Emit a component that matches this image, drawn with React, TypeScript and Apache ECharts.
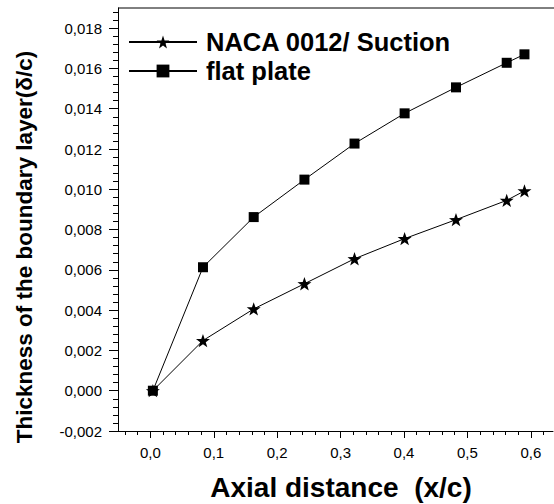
import React, { useEffect, useRef } from "react";
import * as echarts from "echarts";

const xValues = [0.004, 0.083, 0.163, 0.243, 0.322, 0.401, 0.482, 0.562, 0.59];
const flatPlate = [0.0, 0.00613, 0.00862, 0.01048, 0.01227, 0.01377, 0.01506, 0.01628, 0.0167];
const nacaSuction = [0.0, 0.00249, 0.00406, 0.00531, 0.00655, 0.00755, 0.00849, 0.00945, 0.00992];

const xMajor = [0.0, 0.1, 0.2, 0.3, 0.4, 0.5, 0.6];
const xMinor = [-0.04, -0.02, 0.02, 0.04, 0.06, 0.08, 0.12, 0.14, 0.16, 0.18, 0.22, 0.24, 0.26, 0.28, 0.32, 0.34, 0.36, 0.38, 0.42, 0.44, 0.46, 0.48, 0.52, 0.54, 0.56, 0.58, 0.62];
const yMajor = [-0.002, 0.0, 0.002, 0.004, 0.006, 0.008, 0.01, 0.012, 0.014, 0.016, 0.018];
const yMinor = [
  -0.0016, -0.0012, -0.0008, -0.0004,
  0.0004, 0.0008, 0.0012, 0.0016,
  0.0024, 0.0028, 0.0032, 0.0036,
  0.0044, 0.0048, 0.0052, 0.0056,
  0.0064, 0.0068, 0.0072, 0.0076,
  0.0084, 0.0088, 0.0092, 0.0096,
  0.0104, 0.0108, 0.0112, 0.0116,
  0.0124, 0.0128, 0.0132, 0.0136,
  0.0144, 0.0148, 0.0152, 0.0156,
  0.0164, 0.0168, 0.0172, 0.0176,
  0.0184, 0.0188,
];

const X_MIN = -0.051;
const X_MAX = 0.635;
const Y_MIN = -0.002;
const Y_MAX = 0.019;

const STAR =
  "path://M0,-10 L2.35,-3.24 L9.51,-3.09 L3.8,1.24 L5.88,8.09 L0,4 L-5.88,8.09 L-3.8,1.24 L-9.51,-3.09 L-2.35,-3.24 Z";

const FONT = "'Liberation Sans', Arial, sans-serif";

export default function App() {
  const ref = useRef<HTMLDivElement>(null);
  useEffect(() => {
    if (!ref.current) return;
    const chart = echarts.init(ref.current, undefined, { renderer: "svg" });
    const axisLineStyle = { color: "#000", width: 1 };
    chart.setOption({
      animation: false,
      backgroundColor: "#fff",
      grid: { left: 118, top: 8, right: 1, bottom: 73, containLabel: false },
      legend: {
        orient: "vertical",
        left: 128,
        top: 28,
        padding: 0,
        itemWidth: 68,
        itemHeight: 16,
        itemGap: 1,
        selectedMode: false,
        textStyle: {
          fontFamily: FONT,
          fontWeight: "bold",
          fontSize: 25.5,
          lineHeight: 28,
          color: "#000",
          padding: [0, 0, 0, 4],
        },
        data: ["NACA 0012/ Suction", "flat plate"],
      },
      xAxis: [
        {
          type: "value",
          min: X_MIN,
          max: X_MAX,
          position: "bottom",
          axisLine: { show: true, onZero: false, lineStyle: axisLineStyle },
          axisTick: { show: true, inside: false, length: 7, customValues: xMajor, lineStyle: axisLineStyle },
          axisLabel: {
            customValues: xMajor,
            margin: 14,
            fontFamily: FONT,
            fontSize: 15,
            color: "#000",
            formatter: (v: number) => v.toFixed(1).replace(".", ","),
          },
          splitLine: { show: false },
        },
        {
          type: "value",
          min: X_MIN,
          max: X_MAX,
          position: "bottom",
          axisLine: { show: false, onZero: false },
          axisTick: { show: true, inside: false, length: 4, customValues: xMinor, lineStyle: axisLineStyle },
          axisLabel: { show: false },
          splitLine: { show: false },
        },
      ],
      yAxis: [
        {
          type: "value",
          min: Y_MIN,
          max: Y_MAX,
          position: "left",
          axisLine: { show: true, onZero: false, lineStyle: axisLineStyle },
          axisTick: { show: true, inside: false, length: 9, customValues: yMajor, lineStyle: axisLineStyle },
          axisLabel: {
            customValues: yMajor,
            margin: 16,
            fontFamily: FONT,
            fontSize: 15,
            color: "#000",
            formatter: (v: number) => v.toFixed(3).replace(".", ","),
          },
          splitLine: { show: false },
        },
        {
          type: "value",
          min: Y_MIN,
          max: Y_MAX,
          position: "left",
          axisLine: { show: false, onZero: false },
          axisTick: { show: true, inside: false, length: 5, customValues: yMinor, lineStyle: axisLineStyle },
          axisLabel: { show: false },
          splitLine: { show: false },
        },
      ],
      graphic: [
        {
          type: "line",
          shape: { x1: 118, y1: 8, x2: 554, y2: 8 },
          style: { stroke: "#000", lineWidth: 1 },
        },
        {
          type: "text",
          x: 341,
          y: 487,
          style: {
            text: "Axial distance  (x/c)",
            font: `bold 28px ${FONT}`,
            fill: "#000",
            textAlign: "center",
            textVerticalAlign: "middle",
          },
        },
        {
          type: "text",
          x: 24,
          y: 247,
          rotation: Math.PI / 2,
          style: {
            text: "Thickness of the boundary layer(δ/c)",
            font: `bold 22.5px ${FONT}`,
            fill: "#000",
            textAlign: "center",
            textVerticalAlign: "middle",
          },
        },
      ],
      series: [
        {
          name: "NACA 0012/ Suction",
          type: "line",
          xAxisIndex: 0,
          yAxisIndex: 0,
          data: xValues.map((x, i) => [x, nacaSuction[i]]),
          symbol: STAR,
          symbolSize: 14,
          symbolKeepAspect: true,
          lineStyle: { color: "#000", width: 1 },
          itemStyle: { color: "#000" },
          z: 3,
        },
        {
          name: "flat plate",
          type: "line",
          xAxisIndex: 0,
          yAxisIndex: 0,
          data: xValues.map((x, i) => [x, flatPlate[i]]),
          symbol: "rect",
          symbolSize: 10,
          lineStyle: { color: "#000", width: 1 },
          itemStyle: { color: "#000" },
          z: 2,
        },
      ],
    });
    return () => chart.dispose();
  }, []);
  return (
    <div
      ref={ref}
      style={{ position: "fixed", left: 0, top: 0, width: 554, height: 504 }}
    />
  );
}
